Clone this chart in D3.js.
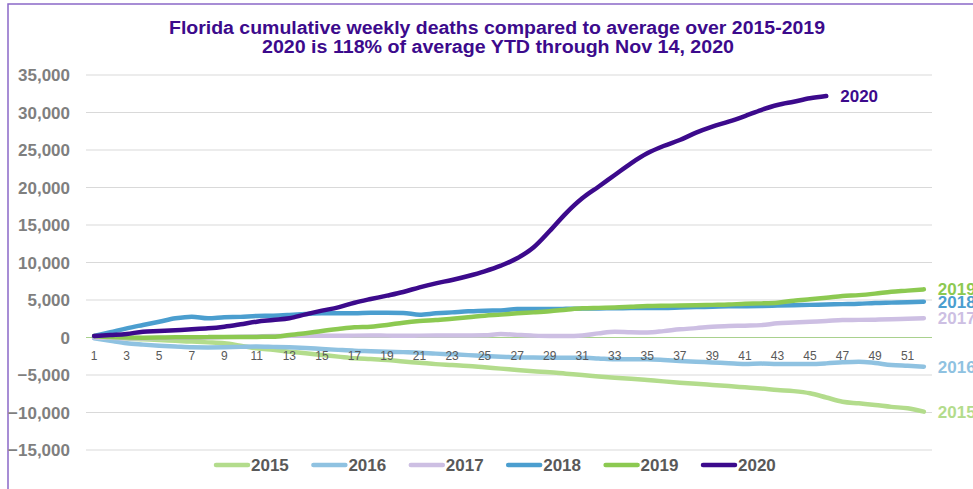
<!DOCTYPE html>
<html>
<head>
<meta charset="utf-8">
<script src="https://cdn.jsdelivr.net/npm/d3@7"></script>
<style>
  body { margin: 0; background: #fff; }
  text { font-family: "Liberation Sans", Arial, sans-serif; }
</style>
</head>
<body>
<div id="chart"></div>
<script>
/////// DATA

const weeks = d3.range(1, 53);
const yTicks = [-15000, -10000, -5000, 0, 5000, 10000, 15000, 20000, 25000, 30000, 35000];
const years = ["2015", "2016", "2017", "2018", "2019", "2020"];
const colors = ["#b3dc8c", "#8fc2e1", "#cdbfe3", "#4b9ecf", "#8cc951", "#3c0a8c"];

const d2015 = [100, 0, -150, -250, -330, -450, -550, -650, -780, -1100, -1440, -1650, -1890, -2100, -2330, -2550, -2780, -2880, -3000, -3200, -3360, -3550, -3670, -3800, -3980, -4150, -4330, -4500, -4640, -4830, -5000, -5200, -5360, -5500, -5670, -5850, -6020, -6180, -6330, -6480, -6640, -6800, -7000, -7150, -7440, -8000, -8560, -8780, -9000, -9250, -9440, -9890];
const d2016 = [-100, -450, -780, -950, -1090, -1200, -1310, -1330, -1310, -1250, -1200, -1250, -1310, -1400, -1530, -1650, -1760, -1820, -1890, -1950, -2020, -2150, -2250, -2350, -2470, -2560, -2650, -2680, -2690, -2700, -2700, -2800, -2910, -2900, -2910, -3000, -3130, -3230, -3330, -3430, -3530, -3480, -3530, -3530, -3530, -3450, -3300, -3220, -3400, -3670, -3780, -3890];
const d2017 = [0, -50, -100, -100, -80, -50, -30, 0, 50, 100, 150, 200, 220, 240, 250, 240, 250, 260, 250, 240, 250, 260, 270, 280, 300, 460, 350, 250, 200, 200, 270, 550, 780, 700, 670, 850, 1090, 1250, 1440, 1520, 1580, 1650, 1890, 2000, 2110, 2200, 2330, 2350, 2380, 2420, 2500, 2560];
const d2018 = [200, 700, 1220, 1670, 2110, 2560, 2780, 2560, 2700, 2750, 2870, 2900, 3000, 3130, 3220, 3220, 3220, 3310, 3310, 3280, 3050, 3220, 3350, 3490, 3580, 3600, 3800, 3800, 3800, 3820, 3850, 3870, 3900, 3920, 3950, 3950, 4000, 4050, 4100, 4150, 4170, 4200, 4250, 4300, 4350, 4400, 4450, 4500, 4600, 4650, 4700, 4770];
const d2019 = [200, 50, 0, -20, 0, 20, 30, 50, 60, 60, 80, 100, 330, 560, 870, 1130, 1360, 1440, 1670, 1980, 2200, 2330, 2510, 2690, 2910, 3050, 3220, 3350, 3500, 3700, 3890, 3950, 4000, 4100, 4200, 4240, 4260, 4300, 4350, 4400, 4500, 4550, 4640, 4900, 5100, 5300, 5530, 5650, 5850, 6100, 6250, 6420];
const d2020 = [200, 330, 470, 780, 870, 980, 1090, 1220, 1440, 1760, 2110, 2330, 2560, 3090, 3580, 4020, 4640, 5130, 5580, 6070, 6690, 7220, 7670, 8200, 8820, 9580, 10560, 12000, 14200, 16560, 18560, 20100, 21670, 23230, 24560, 25530, 26330, 27310, 28110, 28780, 29530, 30330, 31000, 31440, 31890, 32200];

const seriesValues = [d2015, d2016, d2017, d2018, d2019, d2020];
const series = years.map((y, i) => ({
  name: y,
  color: colors[i],
  values: seriesValues[i].map((v, j) => ({ week: weeks[j], value: v }))
}));

/////// MAKE CHART

const width = 973, height = 489;

const svg = d3.select("#chart")
  .append("svg")
  .attr("width", width)
  .attr("height", height);

// chart border (purple)
svg.append("rect")
  .attr("x", 8).attr("y", 4)
  .attr("width", 1000).attr("height", 600)
  .attr("fill", "none")
  .attr("stroke", "#8a68c8")
  .attr("stroke-width", 1.5);

const x = d3.scalePoint()
  .domain(weeks)
  .range([86, 932])
  .padding(0.5);

const y = d3.scaleLinear()
  .domain([-15000, 35000])
  .range([450, 75]);

// gridlines
svg.append("g")
  .selectAll("line")
  .data(yTicks.filter(d => d !== 0))
  .join("line")
  .attr("x1", 86).attr("x2", 932)
  .attr("y1", d => y(d)).attr("y2", d => y(d))
  .attr("stroke", "#d9d9d9")
  .attr("stroke-width", 1);

// zero line
svg.append("line")
  .attr("x1", 86).attr("x2", 932)
  .attr("y1", y(0)).attr("y2", y(0))
  .attr("stroke", "#a9d18e")
  .attr("stroke-width", 1);

// y axis labels
svg.append("g")
  .selectAll("text")
  .data(yTicks)
  .join("text")
  .attr("x", 70)
  .attr("y", d => y(d))
  .attr("dy", "0.36em")
  .attr("text-anchor", "end")
  .attr("font-size", 17)
  .attr("font-weight", "bold")
  .attr("fill", "#7f7f7f")
  .text(d => d3.format(",")(d));

// lines
const line = d3.line()
  .x(d => x(d.week))
  .y(d => y(d.value))
  .curve(d3.curveMonotoneX);

svg.append("g")
  .selectAll("path")
  .data(series)
  .join("path")
  .attr("d", d => line(d.values))
  .attr("fill", "none")
  .attr("stroke", d => d.color)
  .attr("stroke-width", 4.5)
  .attr("stroke-linecap", "round")
  .attr("stroke-linejoin", "round");

// x axis labels (odd weeks), drawn over the lines
svg.append("g")
  .selectAll("text")
  .data(weeks.filter(w => w % 2 === 1))
  .join("text")
  .attr("x", d => x(d))
  .attr("y", y(0) + 22)
  .attr("text-anchor", "middle")
  .attr("font-size", 12)
  .attr("fill", "#595959")
  .text(d => d);

// end labels
svg.append("g")
  .selectAll("text")
  .data(series)
  .join("text")
  .attr("x", d => x(d.values[d.values.length - 1].week) + 14)
  .attr("y", d => y(d.values[d.values.length - 1].value))
  .attr("dy", "0.36em")
  .attr("font-size", 17)
  .attr("font-weight", "bold")
  .attr("fill", d => d.color)
  .text(d => d.name);

// title
const title = svg.append("g").attr("fill", "#3c0a8c").attr("font-weight", "bold").attr("font-size", 18);
title.append("text")
  .attr("x", 497).attr("y", 34)
  .attr("text-anchor", "middle")
  .attr("textLength", 656)
  .attr("lengthAdjust", "spacingAndGlyphs")
  .text("Florida cumulative weekly deaths compared to average over 2015-2019");
title.append("text")
  .attr("x", 498).attr("y", 53)
  .attr("text-anchor", "middle")
  .attr("textLength", 472)
  .attr("lengthAdjust", "spacingAndGlyphs")
  .text("2020 is 118% of average YTD through Nov 14, 2020");

// legend
const legend = svg.append("g")
  .selectAll("g")
  .data(series)
  .join("g")
  .attr("transform", (d, i) => `translate(${216 + i * 97.4}, 465)`);

legend.append("line")
  .attr("x1", 0).attr("x2", 32)
  .attr("stroke", d => d.color)
  .attr("stroke-width", 4.5)
  .attr("stroke-linecap", "round");

legend.append("text")
  .attr("x", 35)
  .attr("dy", "0.36em")
  .attr("font-size", 17)
  .attr("font-weight", "bold")
  .attr("fill", "#595959")
  .text(d => d.name);
</script>
</body>
</html>
